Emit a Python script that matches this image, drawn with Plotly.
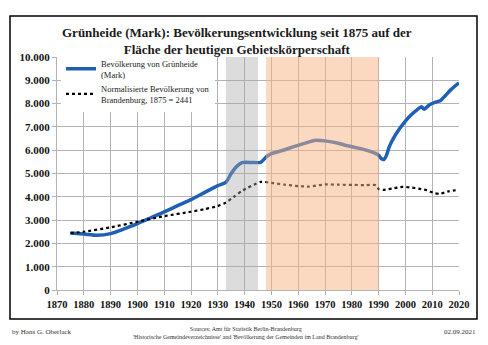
import plotly.graph_objects as go

# ---- data ----
years_gh = [1875, 1880, 1885, 1890, 1895, 1900, 1905, 1910, 1915, 1920, 1925, 1930, 1933,
            1935, 1937, 1939, 1943, 1946, 1948, 1950, 1955, 1958, 1962, 1966, 1970, 1975,
            1978, 1982, 1986, 1989, 1990, 1991, 1992, 1993, 1994, 1996, 1998, 2000, 2002,
            2004, 2006, 2007, 2009, 2011, 2013, 2015, 2017, 2020]
pop_gh = [2441, 2400, 2345, 2420, 2620, 2850, 3100, 3350, 3620, 3880, 4180, 4480, 4620,
          5000, 5300, 5470, 5470, 5480, 5700, 5850, 6020, 6140, 6280, 6420, 6400, 6300,
          6200, 6100, 5980, 5850, 5780, 5640, 5600, 5800, 6150, 6600, 6950, 7250, 7500,
          7700, 7860, 7760, 7950, 8050, 8120, 8350, 8600, 8890]

years_bb = [1875, 1880, 1890, 1900, 1910, 1920, 1925, 1930, 1933, 1936, 1939, 1946, 1950,
            1955, 1960, 1964, 1970, 1975, 1981, 1985, 1989, 1990, 1992, 1995, 1999, 2002,
            2005, 2008, 2011, 2013, 2016, 2020]
pop_bb = [2441, 2500, 2690, 2930, 3170, 3360, 3470, 3600, 3750, 4000, 4250, 4640, 4600,
          4520, 4460, 4440, 4530, 4520, 4510, 4500, 4500, 4330, 4300, 4350, 4430, 4400,
          4350, 4280, 4150, 4130, 4230, 4300]

x_ticks = list(range(1870, 2021, 10))
y_ticks = list(range(0, 10001, 1000))

gray_band = (1933, 1945)
orange_band = (1948, 1990)

title_text = ("Grünheide (Mark): Bevölkerungsentwicklung seit 1875 auf der<br>"
              "Fläche der heutigen Gebietskörperschaft")
legend_gh = "Bevölkerung von Grünheide<br>(Mark)"
legend_bb = "Normalisierte Bevölkerung von<br>Brandenburg, 1875 = 2441"

# ---- layout geometry (pixels) ----
W, H = 488, 345
ML, MR, MT, MB = 57, 29, 57, 55
PW, PH = W - ML - MR, H - MT - MB


def px_x(p):
    return (p - ML) / PW


def px_y(p):
    return (H - MB - p) / PH


SERIF = "Liberation Serif"

fig = go.Figure()
fig.add_trace(go.Scatter(x=years_gh, y=pop_gh, mode="lines", name=legend_gh,
                         line=dict(color="#1f5fb4", width=3.5, shape="spline", smoothing=0.6)))
fig.add_trace(go.Scatter(x=years_bb, y=pop_bb, mode="lines", name=legend_bb,
                         line=dict(color="#000000", width=2.2, dash="dot", shape="spline",
                                   smoothing=0.6)))

fig.add_shape(type="rect", xref="x", yref="y", x0=gray_band[0], x1=gray_band[1],
              y0=0, y1=10000, fillcolor="#a8a8a8", opacity=0.4, line_width=0, layer="above")
fig.add_shape(type="rect", xref="x", yref="y", x0=orange_band[0], x1=orange_band[1],
              y0=0, y1=10000, fillcolor="#f7b381", opacity=0.5, line_width=0, layer="above")

# outer frame
fig.add_shape(type="rect", xref="paper", yref="paper",
              x0=px_x(10), x1=px_x(477), y0=px_y(319), y1=px_y(16),
              line=dict(color="black", width=1.5), fillcolor="rgba(0,0,0,0)", layer="below")

fig.add_annotation(text="<b>" + title_text + "</b>", xref="paper", yref="paper",
                   x=px_x(237), y=px_y(23), xanchor="center", yanchor="top",
                   showarrow=False, font=dict(family=SERIF, size=13, color="#1a1a1a"))

fig.add_annotation(text="by Hans G. Oberlack", xref="paper", yref="paper",
                   x=px_x(10), y=px_y(332), xanchor="left", yanchor="middle",
                   showarrow=False, font=dict(family=SERIF, size=7, color="#333"))
fig.add_annotation(text="02.09.2021", xref="paper", yref="paper",
                   x=px_x(478), y=px_y(332), xanchor="right", yanchor="middle",
                   showarrow=False, font=dict(family=SERIF, size=7, color="#333"))
fig.add_annotation(text="Sources: Amt für Statistik Berlin-Brandenburg<br>"
                        "'Historische Gemeindeverzeichnisse' and 'Bevölkerung der Gemeinden im Land Brandenburg'",
                   xref="paper", yref="paper", x=px_x(245), y=px_y(333),
                   xanchor="center", yanchor="middle", showarrow=False,
                   font=dict(family=SERIF, size=6, color="#333"))

fig.update_layout(
    width=W, height=H,
    margin=dict(l=ML, r=MR, t=MT, b=MB),
    paper_bgcolor="white", plot_bgcolor="white",
    separators=",.",
    showlegend=True,
    legend=dict(x=0.01, y=1.025, xanchor="left", yanchor="top",
                bgcolor="white", borderwidth=0,
                font=dict(family=SERIF, size=8.5, color="#222"),
                tracegroupgap=0, itemwidth=30),
    xaxis=dict(range=[1870, 2020], tickvals=x_ticks, showgrid=True,
               gridcolor="#b3b3b3", gridwidth=1, zeroline=False,
               showline=True, linecolor="#b3b3b3", ticks="outside", ticklen=4,
               tickcolor="#b3b3b3",
               tickfont=dict(family=SERIF, size=10.5, color="#111", weight="bold")),
    yaxis=dict(range=[0, 10000], tickvals=y_ticks, tickformat=",d", showgrid=True,
               gridcolor="#b3b3b3", gridwidth=1, zeroline=False,
               showline=True, linecolor="#b3b3b3", ticks="outside", ticklen=4,
               tickcolor="#b3b3b3",
               tickfont=dict(family=SERIF, size=11, color="#111", weight="bold")),
)

fig.write_html("out.html")
